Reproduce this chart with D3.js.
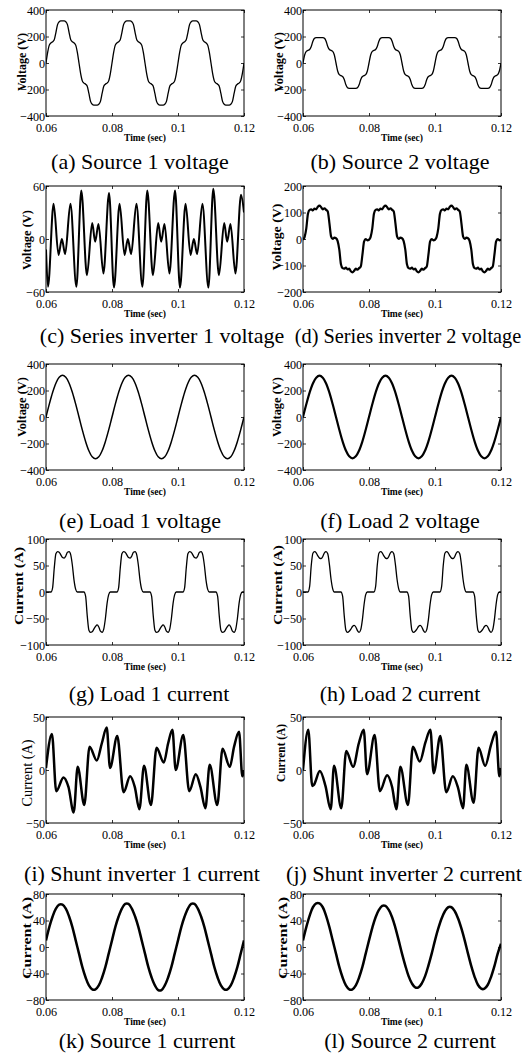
<!DOCTYPE html>
<html>
<head>
<meta charset="utf-8">
<script src="https://cdn.jsdelivr.net/npm/d3@7"></script>
<style>
  body { margin: 0; background: #fff; }
  svg { display: block; font-family: "Liberation Serif", "Times New Roman", serif; }
</style>
</head>
<body>
<div id="fig"></div>
<script>
// ---- data ----
const xTicks = [0.06, 0.08, 0.1, 0.12];
const xTickText = ["0.06", "0.08", "0.1", "0.12"];

const ticksV400 = [-400, -200, 0, 200, 400];
const ticksV60 = [-60, 0, 60];
const ticksV200 = [-200, -100, 0, 100, 200];
const ticksI100 = [-100, -50, 0, 50, 100];
const ticksI50 = [-50, 0, 50];
const ticksI80 = [-80, -40, 0, 40, 80];

// sampling grids (0.5 ms and 1 ms)
const t05 = d3.range(121).map(i => 0.06 + i * 0.0005);
const t1 = d3.range(61).map(i => 0.06 + i * 0.001);

// (a) every 0.5 ms
const source1Voltage = [
  0, 80, 135, 152, 160, 175, 230, 290, 312, 318, 318, 318, 312, 290, 230, 175, 160, 152, 135, 80,
  0, -80, -135, -152, -160, -175, -230, -290, -312, -318, -318, -318, -312, -290, -230, -175, -160, -152, -135, -80,
  0, 80, 135, 152, 160, 175, 230, 290, 312, 318, 318, 318, 312, 290, 230, 175, 160, 152, 135, 80,
  0, -80, -135, -152, -160, -175, -230, -290, -312, -318, -318, -318, -312, -290, -230, -175, -160, -152, -135, -80,
  0, 80, 135, 152, 160, 175, 230, 290, 312, 318, 318, 318, 312, 290, 230, 175, 160, 152, 135, 80,
  0, -80, -135, -152, -160, -175, -230, -290, -312, -318, -318, -318, -312, -290, -230, -175, -160, -152, -135, -80,
  0
];

// (b) every 0.5 ms
const source2Voltage = [
  0, 60, 88, 95, 102, 125, 165, 186, 191, 192, 192, 192, 191, 186, 165, 125, 102, 95, 88, 60,
  0, -60, -88, -95, -102, -125, -165, -186, -191, -192, -192, -192, -191, -186, -165, -125, -102, -95, -88, -60,
  0, 60, 88, 95, 102, 125, 165, 186, 191, 192, 192, 192, 191, 186, 165, 125, 102, 95, 88, 60,
  0, -60, -88, -95, -102, -125, -165, -186, -191, -192, -192, -192, -191, -186, -165, -125, -102, -95, -88, -60,
  0, 60, 88, 95, 102, 125, 165, 186, 191, 192, 192, 192, 191, 186, 165, 125, 102, 95, 88, 60,
  0, -60, -88, -95, -102, -125, -165, -186, -191, -192, -192, -192, -191, -186, -165, -125, -102, -95, -88, -60,
  0
];

// (c) extrema [time, volts]
const series1Voltage = [
  [0.0600, -12], [0.0606, -54], [0.0623, 40], [0.0638, -18], [0.0648, 0], [0.0658, -17], [0.0674, 40],
  [0.0692, -54], [0.0707, 55], [0.0724, -41], [0.0740, 18], [0.0749, -3], [0.0759, 17], [0.0774, -39], [0.0791, 52],
  [0.0806, -55], [0.0823, 40], [0.0838, -18], [0.0848, 0], [0.0858, -17], [0.0874, 40],
  [0.0892, -54], [0.0907, 55], [0.0924, -41], [0.0940, 18], [0.0949, -3], [0.0959, 17], [0.0974, -39], [0.0991, 55],
  [0.1006, -55], [0.1023, 40], [0.1038, -18], [0.1048, 0], [0.1058, -17], [0.1074, 40],
  [0.1092, -55], [0.1107, 57], [0.1124, -41], [0.1140, 18], [0.1149, -3], [0.1159, 17], [0.1174, -39], [0.1191, 50],
  [0.1200, 30]
];

// (d) every 0.5 ms
const series2Voltage = [
  -3, 8, 40, 95, 110, 112, 108, 115, 112, 122, 126, 120, 112, 116, 110, 104, 60, 10, 0, 5,
  3, -8, -40, -95, -110, -112, -108, -115, -112, -122, -126, -120, -112, -116, -110, -104, -60, -10, 0, -5,
  -3, 8, 40, 95, 110, 112, 108, 115, 112, 122, 126, 120, 112, 116, 110, 104, 60, 10, 0, 5,
  3, -8, -40, -95, -110, -112, -108, -115, -112, -122, -126, -120, -112, -116, -110, -104, -60, -10, 0, -5,
  -3, 8, 40, 95, 110, 112, 108, 115, 112, 122, 126, 120, 112, 116, 110, 104, 60, 10, 0, 5,
  3, -8, -40, -95, -110, -112, -108, -115, -112, -122, -126, -120, -112, -116, -110, -104, -60, -10, 0, -5,
  -3
];

// (e) every 1 ms
const load1Voltage = [
  0, 97, 185, 255, 300, 315, 300, 255, 185, 97, 0, -97, -185, -255, -300, -315, -300, -255, -185, -97,
  0, 97, 185, 255, 300, 315, 300, 255, 185, 97, 0, -97, -185, -255, -300, -315, -300, -255, -185, -97,
  0, 97, 185, 255, 300, 315, 300, 255, 185, 97, 0, -97, -185, -255, -300, -315, -300, -255, -185, -97,
  0
];

// (f) every 1 ms
const load2Voltage = [
  0, 96, 184, 253, 297, 312, 297, 253, 184, 96, 0, -96, -184, -253, -297, -312, -297, -253, -184, -96,
  0, 96, 184, 253, 297, 312, 297, 253, 184, 96, 0, -96, -184, -253, -297, -312, -297, -253, -184, -96,
  0, 96, 184, 253, 297, 312, 297, 253, 184, 96, 0, -96, -184, -253, -297, -312, -297, -253, -184, -96,
  0
];

// (g) every 0.5 ms
const load1Current = [
  0, 0, 0, 0, 8, 45, 72, 76, 75, 70, 65, 64, 68, 75, 76, 70, 50, 22, 5, 0,
  0, 0, 0, 0, -8, -45, -72, -76, -75, -70, -65, -62, -66, -74, -76, -70, -50, -22, -5, 0,
  0, 0, 0, 0, 8, 45, 72, 76, 75, 70, 65, 64, 68, 75, 76, 70, 50, 22, 5, 0,
  0, 0, 0, 0, -8, -45, -72, -76, -75, -70, -65, -62, -66, -74, -76, -70, -50, -22, -5, 0,
  0, 0, 0, 0, 8, 45, 72, 76, 75, 70, 65, 64, 68, 75, 76, 70, 50, 22, 5, 0,
  0, 0, 0, 0, -8, -45, -72, -76, -75, -70, -65, -62, -66, -74, -76, -70, -50, -22, -5, 0,
  0
];

// (h) every 0.5 ms
const load2Current = [
  0, 0, 0, 0, 10, 50, 73, 76, 74, 68, 64, 63, 67, 74, 76, 72, 52, 24, 6, 0,
  0, 0, 0, 0, -8, -45, -72, -76, -74, -70, -65, -63, -66, -73, -76, -71, -52, -24, -5, 0,
  0, 0, 0, 0, 10, 50, 73, 76, 74, 68, 64, 63, 67, 74, 76, 72, 52, 24, 6, 0,
  0, 0, 0, 0, -8, -45, -72, -76, -74, -70, -65, -63, -66, -73, -76, -71, -52, -24, -5, 0,
  0, 0, 0, 0, 10, 50, 73, 76, 74, 68, 64, 63, 67, 74, 76, 72, 52, 24, 6, 0,
  0, 0, 0, 0, -8, -45, -72, -76, -74, -70, -65, -63, -66, -73, -76, -71, -52, -24, -5, 0,
  0
];

// (i) extrema [time, amps]
const shunt1Current = [
  [0.0600, 2], [0.0618, 34], [0.0631, -20], [0.0653, -7], [0.0668, -16], [0.0684, -40], [0.0696, 3],
  [0.0716, -33], [0.0732, 22], [0.0754, 9], [0.0769, 25], [0.0784, 40], [0.0794, 2],
  [0.0816, 32], [0.0835, -21], [0.0855, -6], [0.0869, -16], [0.0883, -37], [0.0897, 4],
  [0.0918, -33], [0.0935, 21], [0.0957, 7], [0.0970, 25], [0.0983, 38], [0.0993, 0],
  [0.1016, 33], [0.1034, -20], [0.1054, -4], [0.1068, -16], [0.1083, -36], [0.1096, 5],
  [0.1119, -33], [0.1135, 20], [0.1157, 3], [0.1170, 22], [0.1185, 36], [0.1195, -6], [0.1200, 0]
];

// (j) extrema [time, amps]
const shunt2Current = [
  [0.0600, 0], [0.0616, 38], [0.0628, -15], [0.0633, -14], [0.0651, -1], [0.0668, -15], [0.0684, -37], [0.0694, 4],
  [0.0716, -36], [0.0731, 18], [0.0752, 3], [0.0769, 25], [0.0784, 38], [0.0794, -4],
  [0.0817, 33], [0.0833, -20], [0.0855, -5], [0.0870, -16], [0.0883, -37], [0.0895, 3],
  [0.0918, -33], [0.0933, 22], [0.0954, 8], [0.0971, 26], [0.0986, 38], [0.0996, -3],
  [0.1016, 32], [0.1034, -21], [0.1054, -6], [0.1070, -17], [0.1085, -36], [0.1095, 5],
  [0.1117, -31], [0.1132, 21], [0.1152, 4], [0.1170, 24], [0.1185, 36], [0.1195, -6], [0.1200, 2]
];

// (k) every 1 ms
const source1Current = [
  10, 30, 46, 58, 64, 64, 58, 46, 30, 10, -10, -30, -46, -58, -64, -64, -58, -46, -30, -10,
  10, 30, 46, 58, 65, 65, 58, 46, 30, 10, -10, -30, -46, -58, -65, -65, -58, -46, -30, -10,
  10, 30, 46, 58, 65, 65, 58, 46, 30, 10, -10, -30, -46, -58, -64, -64, -58, -46, -30, -10,
  10
];

// (l) every 1 ms
const source2Current = [
  10, 30, 47, 60, 66, 66, 60, 47, 30, 10, -10, -30, -46, -58, -64, -64, -58, -46, -30, -10,
  10, 29, 45, 56, 62, 62, 56, 45, 29, 10, -10, -28, -44, -55, -61, -61, -55, -44, -28, -10,
  10, 28, 43, 54, 60, 60, 54, 43, 28, 10, -10, -29, -45, -57, -63, -63, -57, -45, -29, -10,
  5
];

const captions = [
  "(a) Source 1 voltage", "(b) Source 2 voltage",
  "(c) Series inverter 1 voltage", "(d) Series inverter 2 voltage",
  "(e) Load 1 voltage", "(f) Load 2 voltage",
  "(g) Load 1 current", "(h) Load 2 current",
  "(i) Shunt inverter 1 current", "(j) Shunt inverter 2 current",
  "(k) Source 1 current", "(l) Source 2 current"
];

// ---- layout ----
const W = 528, H = 1061;
const plotW = 198, plotH = 106;
const colX = [46, 303];
const rowY = [10, 186, 364, 539, 717, 894];
const capBase = [169, 343, 528, 701, 881, 1048];
const capX = [140, 400, 162, 408, 140, 400, 149, 400, 142, 404, 147, 410];
const capSize = [22, 22, 22, 20.3, 22, 22, 22, 22, 22, 22, 22, 22];

const pair = (ts, vs) => vs.map((v, i) => [ts[i], v]);

const panels = [
  { data: pair(t05, source1Voltage), dom: [-400, 400], ticks: ticksV400, lab: "Voltage (V)", bold: true, fs: 12, len: 58, dx: -24, dy: -1, lw: 1.3, curve: d3.curveMonotoneX },
  { data: pair(t05, source2Voltage), dom: [-400, 400], ticks: ticksV400, lab: "Voltage (V)", bold: true, fs: 12, len: 60, dx: -24, dy: -1, lw: 1.3, curve: d3.curveMonotoneX },
  { data: series1Voltage, dom: [-60, 60], ticks: ticksV60, lab: "Voltage (V)", bold: true, fs: 12, len: 60, dx: -19, dy: 1, lw: 2, curve: d3.curveMonotoneX },
  { data: pair(t05, series2Voltage), dom: [-200, 200], ticks: ticksV200, lab: "Voltage (V)", bold: true, fs: 12, len: 67, dx: -26, dy: -2, lw: 2.2, curve: d3.curveMonotoneX },
  { data: pair(t1, load1Voltage), dom: [-400, 400], ticks: ticksV400, lab: "Voltage (V)", bold: true, fs: 12, len: 60, dx: -24, dy: -10, lw: 1.5, curve: d3.curveCatmullRom },
  { data: pair(t1, load2Voltage), dom: [-400, 400], ticks: ticksV400, lab: "Voltage (V)", bold: true, fs: 12, len: 60, dx: -26, dy: -10, lw: 2.2, curve: d3.curveCatmullRom },
  { data: pair(t05, load1Current), dom: [-100, 100], ticks: ticksI100, lab: "Current (A)", bold: true, fs: 12, len: 78, dx: -27, dy: -6, lw: 1.3, curve: d3.curveMonotoneX },
  { data: pair(t05, load2Current), dom: [-100, 100], ticks: ticksI100, lab: "Current (A)", bold: true, fs: 12, len: 80, dx: -25, dy: -7, lw: 1.3, curve: d3.curveMonotoneX },
  { data: shunt1Current, dom: [-50, 50], ticks: ticksI50, lab: "Current (A)", bold: false, fs: 14, len: 67, dx: -19, dy: 3, lw: 2.5, curve: d3.curveMonotoneX },
  { data: shunt2Current, dom: [-50, 50], ticks: ticksI50, lab: "Current (A)", bold: true, fs: 12, len: 58, dx: -22, dy: -17, lw: 2.5, curve: d3.curveMonotoneX },
  { data: pair(t1, source1Current), dom: [-80, 80], ticks: ticksI80, lab: "Current (A)", bold: true, fs: 12, len: 82, dx: -19, dy: -9, lw: 2.5, curve: d3.curveCatmullRom },
  { data: pair(t1, source2Current), dom: [-80, 80], ticks: ticksI80, lab: "Current (A)", bold: true, fs: 12, len: 82, dx: -20, dy: -9, lw: 2.5, curve: d3.curveCatmullRom }
];

const svg = d3.select("#fig").append("svg")
  .attr("width", W)
  .attr("height", H);

svg.append("rect").attr("width", W).attr("height", H).attr("fill", "#fff");

const x = d3.scaleLinear().domain([0.06, 0.12]).range([0, plotW]);

panels.forEach((p, i) => {
  const px = colX[i % 2];
  const py = rowY[Math.floor(i / 2)];
  const y = d3.scaleLinear().domain(p.dom).range([plotH, 0]);

  const g = svg.append("g").attr("transform", `translate(${px},${py})`);

  g.append("clipPath").attr("id", `clip${i}`)
    .append("rect").attr("width", plotW).attr("height", plotH);

  // MATLAB style inward ticks on all four sides
  g.append("g")
    .attr("transform", `translate(0,${plotH})`)
    .call(d3.axisBottom(x).tickValues(xTicks).tickFormat((d, k) => xTickText[k])
      .tickSizeInner(-3).tickSizeOuter(0).tickPadding(6));
  g.append("g")
    .call(d3.axisTop(x).tickValues(xTicks).tickFormat("").tickSizeInner(-3).tickSizeOuter(0));
  g.append("g")
    .call(d3.axisLeft(y).tickValues(p.ticks).tickSizeInner(-3).tickSizeOuter(0).tickPadding(1));
  g.append("g")
    .attr("transform", `translate(${plotW},0)`)
    .call(d3.axisRight(y).tickValues(p.ticks).tickFormat("").tickSizeInner(-3).tickSizeOuter(0));

  g.selectAll(".domain").remove();
  g.selectAll(".tick line").attr("stroke", "#000").attr("stroke-width", 0.8);
  g.selectAll(".tick text")
    .attr("fill", "#000")
    .attr("font-family", "Liberation Serif")
    .attr("font-size", 13.5)
    .attr("transform", "scale(0.9,1)");

  g.append("path")
    .datum(p.data)
    .attr("clip-path", `url(#clip${i})`)
    .attr("fill", "none")
    .attr("stroke", "#000")
    .attr("stroke-width", p.lw)
    .attr("stroke-linejoin", "round")
    .attr("d", d3.line().x(d => x(d[0])).y(d => y(d[1])).curve(p.curve));

  g.append("rect")
    .attr("width", plotW)
    .attr("height", plotH)
    .attr("fill", "none")
    .attr("stroke", "#000")
    .attr("stroke-width", 1);

  // axis titles
  g.append("text")
    .attr("transform", `translate(${p.dx},${plotH / 2 + p.dy}) rotate(-90)`)
    .attr("text-anchor", "middle")
    .attr("dominant-baseline", "central")
    .attr("font-size", p.fs)
    .attr("font-weight", p.bold ? "bold" : "normal")
    .attr("textLength", p.len)
    .attr("lengthAdjust", "spacingAndGlyphs")
    .text(p.lab);

  g.append("text")
    .attr("x", plotW / 2)
    .attr("y", plotH + 24.5)
    .attr("text-anchor", "middle")
    .attr("font-size", 10.5)
    .attr("font-weight", "bold")
    .attr("textLength", 42)
    .attr("lengthAdjust", "spacingAndGlyphs")
    .text("Time (sec)");

  // caption under each panel
  svg.append("text")
    .attr("x", capX[i])
    .attr("y", capBase[Math.floor(i / 2)])
    .attr("text-anchor", "middle")
    .attr("font-size", capSize[i])
    .text(captions[i]);
});
</script>
</body>
</html>
